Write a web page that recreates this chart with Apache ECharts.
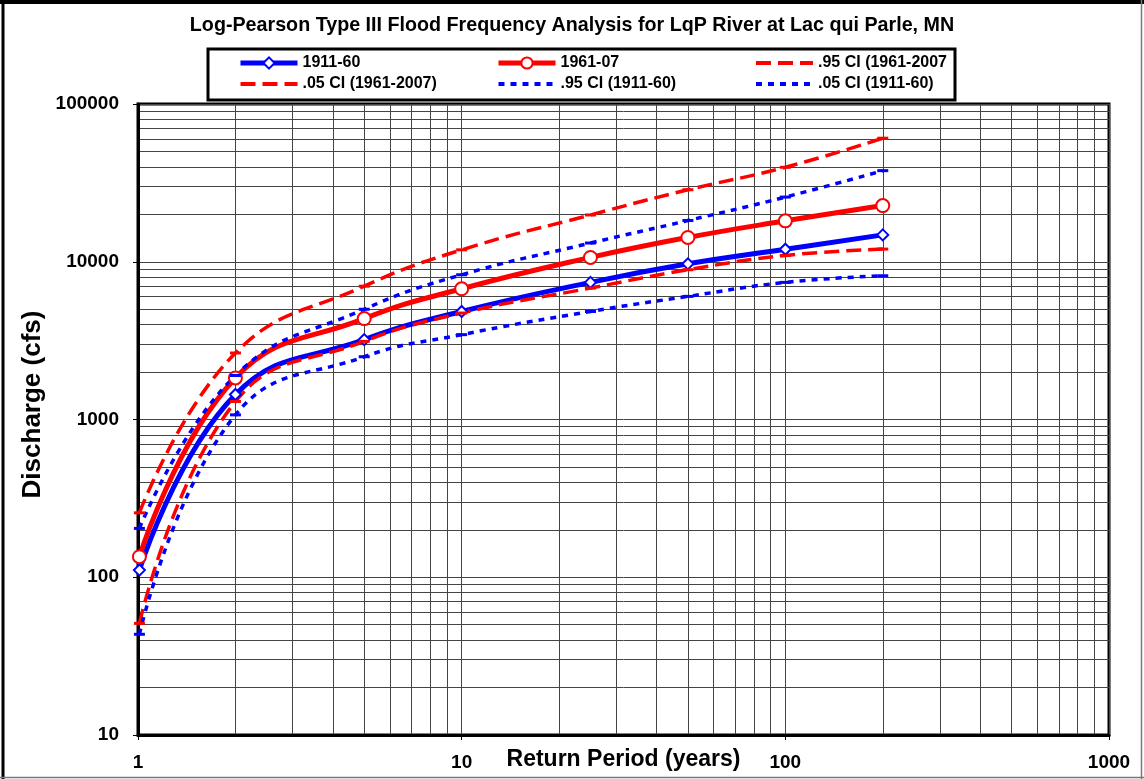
<!DOCTYPE html>
<html>
<head>
<meta charset="utf-8">
<script src="https://cdn.jsdelivr.net/npm/echarts@6/dist/echarts.min.js"></script>
<style>
html,body{margin:0;padding:0;background:#fff;}
#chart{width:1144px;height:779px;}
</style>
</head>
<body>
<div id="chart"></div>
<script>
// ---- data ----
const returnPeriods = [1.01, 2, 5, 10, 25, 50, 100, 200];
const q1911_60   = [111, 1440, 3210, 4840, 7400, 9700, 12000, 14800];
const q1961_07   = [135, 1835, 4360, 6740, 10650, 14260, 18170, 22700];
const ci95_1961  = [256, 2640, 7000, 11900, 19800, 28600, 39700, 60700];
const ci05_1961  = [51, 1300, 3130, 4730, 6810, 8900, 10960, 12030];
const ci95_1911  = [204, 1900, 5000, 8270, 13140, 18250, 25700, 37800];
const ci05_1911  = [43.5, 1070, 2500, 3450, 4840, 6030, 7400, 8150];

const seriesNames = ['1911-60', '1961-07', '.95 CI (1961-2007', '.05 CI (1961-2007)', '.95 CI (1911-60)', '.05 CI (1911-60)'];

const xTickLabels = ['1', '10', '100', '1000'];
const yTickLabels = ['10', '100', '1000', '10000', '100000'];
const xMinorGrid = [2,3,4,5,6,7,8,9, 20,30,40,50,60,70,80,90, 200,300,400,500,600,700,800,900];
const yMinorGrid = [20,30,40,50,60,70,80,90, 200,300,400,500,600,700,800,900,
                    2000,3000,4000,5000,6000,7000,8000,9000, 20000,30000,40000,50000,60000,70000,80000,90000];

const titleText = 'Log-Pearson Type III Flood Frequency Analysis for LqP River at Lac qui Parle, MN';
const xName = 'Return Period (years)';
const yName = 'Discharge (cfs)';

// ---- chart ----
const BLUE = '#0000ff', RED = '#ff0000';
const FONT = '"Liberation Sans", Arial, sans-serif';
const pairs = vals => returnPeriods.map((x, i) => [x, vals[i]]);

const chart = echarts.init(document.getElementById('chart'), null, {renderer: 'canvas'});

const solidLeg = name => ({name, lineStyle: {width: 5}});
const ciLeg = name => ({name, itemStyle: {opacity: 0}, lineStyle: {width: 4}});
const legendBase = {
  orient: 'vertical', top: 55, itemGap: 5, itemWidth: 57, itemHeight: 14,
  textStyle: {fontFamily: FONT, fontWeight: 'bold', fontSize: 16, color: '#000'},
  selectedMode: false, padding: 0
};

const ciSeries = (name, vals, color, dash) => ({
  name, type: 'line', data: pairs(vals), smooth: 0.45,
  symbol: 'rect', symbolSize: [11, 3],
  itemStyle: {color},
  lineStyle: {color, width: 3.5, type: dash},
  z: 3
});

chart.setOption({
  animation: false,
  title: {text: titleText, left: 'center', top: 11,
    textStyle: {fontFamily: FONT, fontWeight: 'bold', fontSize: 19.7, color: '#000'}},
  grid: {left: 138, right: 35, top: 104, bottom: 44, show: true, borderColor: '#000', borderWidth: 3,
    outerBoundsMode: 'none', containLabel: false},
  legend: [
    Object.assign({}, legendBase, {left: 238, data: [solidLeg(seriesNames[0]), ciLeg(seriesNames[3])]}),
    Object.assign({}, legendBase, {left: 496, data: [solidLeg(seriesNames[1]), ciLeg(seriesNames[4])]}),
    Object.assign({}, legendBase, {left: 754, data: [ciLeg(seriesNames[2]), ciLeg(seriesNames[5])]})
  ],
  xAxis: {
    type: 'log', logBase: 10, min: 1, max: 1000,
    name: xName, nameLocation: 'middle', nameGap: 13, nameMoveOverlap: false,
    nameTextStyle: {fontFamily: FONT, fontWeight: 'bold', fontSize: 23, color: '#000'},
    axisLine: {show: true, lineStyle: {color: '#000', width: 3}},
    axisTick: {show: true, length: 5, lineStyle: {color: '#000', width: 1}},
    axisLabel: {fontFamily: FONT, fontWeight: 'bold', fontSize: 19, color: '#000', margin: 18,
      formatter: v => { const i = Math.round(Math.log10(v)); return xTickLabels[i] !== undefined ? xTickLabels[i] : ''; }},
    splitLine: {show: true, lineStyle: {color: '#444', width: 1}}
  },
  yAxis: {
    type: 'log', logBase: 10, min: 10, max: 100000,
    name: yName, nameLocation: 'middle', nameGap: 92, nameRotate: 90, nameMoveOverlap: false,
    nameTextStyle: {fontFamily: FONT, fontWeight: 'bold', fontSize: 26, color: '#000', padding: [0, 0, 0, 30]},
    axisLine: {show: true, lineStyle: {color: '#000', width: 3}},
    axisTick: {show: true, length: 5, lineStyle: {color: '#000', width: 1}},
    axisLabel: {fontFamily: FONT, fontWeight: 'bold', fontSize: 19, color: '#000', margin: 19,
      formatter: v => { const i = Math.round(Math.log10(v)) - 1; return yTickLabels[i] !== undefined ? yTickLabels[i] : ''; }},
    splitLine: {show: true, lineStyle: {color: '#444', width: 1}}
  },
  graphic: [
    {type: 'rect', shape: {x: 208, y: 49, width: 747, height: 51}, style: {fill: 'none', stroke: '#000', lineWidth: 3}, z: 10},
    {type: 'line', shape: {x1: 0, y1: 2, x2: 1144, y2: 2}, style: {stroke: '#000', lineWidth: 4}, z: 10},
    {type: 'line', shape: {x1: 3, y1: 0, x2: 3, y2: 779}, style: {stroke: '#000', lineWidth: 3}, z: 10},
    {type: 'line', shape: {x1: 1141.5, y1: 0, x2: 1141.5, y2: 779}, style: {stroke: '#777', lineWidth: 1.5}, z: 10},
    {type: 'line', shape: {x1: 0, y1: 777.5, x2: 1144, y2: 777.5}, style: {stroke: '#777', lineWidth: 1.5}, z: 10}
  ],
  series: [
    {
      name: '__grid', type: 'line', data: [], silent: true, z: 0,
      markLine: {
        silent: true, z: 0, symbol: ['none', 'none'], label: {show: false},
        lineStyle: {color: '#444', width: 1, type: 'solid'},
        emphasis: {disabled: true},
        data: xMinorGrid.map(v => ({xAxis: v})).concat(yMinorGrid.map(v => ({yAxis: v})))
      }
    },
    {
      name: seriesNames[0], type: 'line', data: pairs(q1911_60), smooth: 0.45,
      symbol: 'emptyDiamond', symbolSize: 11,
      itemStyle: {color: BLUE, borderWidth: 2},
      lineStyle: {color: BLUE, width: 5}, z: 3
    },
    {
      name: seriesNames[1], type: 'line', data: pairs(q1961_07), smooth: 0.45,
      symbol: 'emptyCircle', symbolSize: 13,
      itemStyle: {color: RED, borderWidth: 2},
      lineStyle: {color: RED, width: 5}, z: 3
    },
    ciSeries(seriesNames[2], ci95_1961, RED, [15, 7]),
    ciSeries(seriesNames[3], ci05_1961, RED, [15, 7]),
    ciSeries(seriesNames[4], ci95_1911, BLUE, [6, 6]),
    ciSeries(seriesNames[5], ci05_1911, BLUE, [6, 6])
  ]
});
</script>
</body>
</html>
